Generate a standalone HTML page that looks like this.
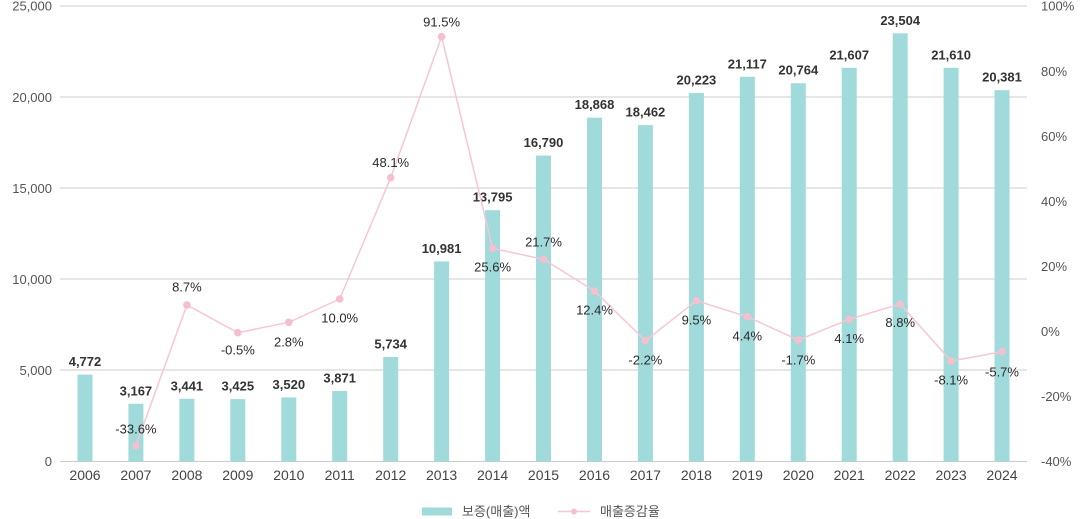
<!DOCTYPE html>
<html><head><meta charset="utf-8"><style>
html,body{margin:0;padding:0;background:#fff;}
svg{display:block;font-family:"Liberation Sans","Noto Sans CJK KR",sans-serif;}
.yl{font-size:13px;fill:#555;text-anchor:end;}
.yr{font-size:13px;fill:#555;text-anchor:start;}
.xl{font-size:14px;fill:#444;text-anchor:middle;}
.bv{font-size:13px;fill:#333;font-weight:bold;text-anchor:middle;}
.pv{font-size:13px;fill:#2a2a2a;text-anchor:middle;}
.lg{font-size:13px;fill:#555;}
</style></head><body>
<svg width="1084" height="519" viewBox="0 0 1084 519" xmlns="http://www.w3.org/2000/svg">
<g stroke="#cccccc" stroke-width="1" shape-rendering="crispEdges">
<line x1="60" x2="1027" y1="6" y2="6"/>
<line x1="60" x2="1027" y1="97" y2="97"/>
<line x1="60" x2="1027" y1="188" y2="188"/>
<line x1="60" x2="1027" y1="279" y2="279"/>
<line x1="60" x2="1027" y1="370" y2="370"/>
<line x1="60" x2="1027" y1="461.5" y2="461.5"/>
</g>
<g>
<text class="yl" x="52" y="10.7">25,000</text>
<text class="yl" x="52" y="101.8">20,000</text>
<text class="yl" x="52" y="192.9">15,000</text>
<text class="yl" x="52" y="284">10,000</text>
<text class="yl" x="52" y="375.1">5,000</text>
<text class="yl" x="52" y="466.2">0</text>
</g>
<g>
<text class="yr" x="1041" y="10.7">100%</text>
<text class="yr" x="1041" y="75.8">80%</text>
<text class="yr" x="1041" y="140.8">60%</text>
<text class="yr" x="1041" y="205.9">40%</text>
<text class="yr" x="1041" y="271">20%</text>
<text class="yr" x="1041" y="336.1">0%</text>
<text class="yr" x="1041" y="401.1">-20%</text>
<text class="yr" x="1041" y="466.2">-40%</text>
</g>
<g fill="#a0dadb">
<rect x="77.5" y="374.6" width="15" height="86.9"/>
<rect x="128.4" y="403.8" width="15" height="57.7"/>
<rect x="179.4" y="398.8" width="15" height="62.7"/>
<rect x="230.3" y="399.1" width="15" height="62.4"/>
<rect x="281.3" y="397.4" width="15" height="64.1"/>
<rect x="332.2" y="391" width="15" height="70.5"/>
<rect x="383.2" y="357" width="15" height="104.5"/>
<rect x="434.1" y="261.4" width="15" height="200.1"/>
<rect x="485.1" y="210.2" width="15" height="251.3"/>
<rect x="536" y="155.6" width="15" height="305.9"/>
<rect x="587" y="117.7" width="15" height="343.8"/>
<rect x="637.9" y="125.1" width="15" height="336.4"/>
<rect x="688.9" y="93" width="15" height="368.5"/>
<rect x="739.8" y="76.8" width="15" height="384.7"/>
<rect x="790.8" y="83.2" width="15" height="378.3"/>
<rect x="841.7" y="67.8" width="15" height="393.7"/>
<rect x="892.7" y="33.3" width="15" height="428.2"/>
<rect x="943.6" y="67.8" width="15" height="393.7"/>
<rect x="994.5" y="90.2" width="15" height="371.3"/>
</g>
<g>
<text class="bv" x="85" y="366">4,772</text>
<text class="bv" x="135.9" y="395.3">3,167</text>
<text class="bv" x="186.9" y="390.3">3,441</text>
<text class="bv" x="237.8" y="390.6">3,425</text>
<text class="bv" x="288.8" y="388.9">3,520</text>
<text class="bv" x="339.7" y="382.5">3,871</text>
<text class="bv" x="390.7" y="348.5">5,734</text>
<text class="bv" x="441.6" y="252.9">10,981</text>
<text class="bv" x="492.6" y="201.7">13,795</text>
<text class="bv" x="543.5" y="147.1">16,790</text>
<text class="bv" x="594.5" y="109.2">18,868</text>
<text class="bv" x="645.4" y="116.6">18,462</text>
<text class="bv" x="696.4" y="84.5">20,223</text>
<text class="bv" x="747.3" y="68.3">21,117</text>
<text class="bv" x="798.3" y="74.7">20,764</text>
<text class="bv" x="849.2" y="59.3">21,607</text>
<text class="bv" x="900.2" y="24.8">23,504</text>
<text class="bv" x="951.1" y="59.3">21,610</text>
<text class="bv" x="1002" y="81.7">20,381</text>
</g>
<polyline fill="none" stroke="#f7c6d3" stroke-width="1.5" points="135.9,445.7 186.9,305 237.8,332.7 288.8,322.3 339.7,299 390.7,177.7 441.6,36.7 492.6,248.3 543.5,259.3 594.5,291 645.4,340.7 696.4,300.7 747.3,316.7 798.3,340 849.2,319.3 900.2,304 951.1,361 1002,351.7"/>
<g fill="#f5c0ce">
<circle cx="135.9" cy="445.7" r="3.8"/>
<circle cx="186.9" cy="305" r="3.8"/>
<circle cx="237.8" cy="332.7" r="3.8"/>
<circle cx="288.8" cy="322.3" r="3.8"/>
<circle cx="339.7" cy="299" r="3.8"/>
<circle cx="390.7" cy="177.7" r="3.8"/>
<circle cx="441.6" cy="36.7" r="3.8"/>
<circle cx="492.6" cy="248.3" r="3.8"/>
<circle cx="543.5" cy="259.3" r="3.8"/>
<circle cx="594.5" cy="291" r="3.8"/>
<circle cx="645.4" cy="340.7" r="3.8"/>
<circle cx="696.4" cy="300.7" r="3.8"/>
<circle cx="747.3" cy="316.7" r="3.8"/>
<circle cx="798.3" cy="340" r="3.8"/>
<circle cx="849.2" cy="319.3" r="3.8"/>
<circle cx="900.2" cy="304" r="3.8"/>
<circle cx="951.1" cy="361" r="3.8"/>
<circle cx="1002" cy="351.7" r="3.8"/>
</g>
<g>
<text class="pv" x="135.9" y="433.7">-33.6%</text>
<text class="pv" x="186.9" y="291.4">8.7%</text>
<text class="pv" x="237.8" y="354.7">-0.5%</text>
<text class="pv" x="288.8" y="346.4">2.8%</text>
<text class="pv" x="339.7" y="322.4">10.0%</text>
<text class="pv" x="390.7" y="167">48.1%</text>
<text class="pv" x="441.6" y="26.7">91.5%</text>
<text class="pv" x="492.6" y="271.4">25.6%</text>
<text class="pv" x="543.5" y="246.4">21.7%</text>
<text class="pv" x="594.5" y="314.7">12.4%</text>
<text class="pv" x="645.4" y="364.7">-2.2%</text>
<text class="pv" x="696.4" y="324.7">9.5%</text>
<text class="pv" x="747.3" y="340.4">4.4%</text>
<text class="pv" x="798.3" y="364.7">-1.7%</text>
<text class="pv" x="849.2" y="343">4.1%</text>
<text class="pv" x="900.2" y="327">8.8%</text>
<text class="pv" x="951.1" y="384.7">-8.1%</text>
<text class="pv" x="1002" y="376.4">-5.7%</text>
</g>
<g>
<text class="xl" x="85" y="480">2006</text>
<text class="xl" x="135.9" y="480">2007</text>
<text class="xl" x="186.9" y="480">2008</text>
<text class="xl" x="237.8" y="480">2009</text>
<text class="xl" x="288.8" y="480">2010</text>
<text class="xl" x="339.7" y="480">2011</text>
<text class="xl" x="390.7" y="480">2012</text>
<text class="xl" x="441.6" y="480">2013</text>
<text class="xl" x="492.6" y="480">2014</text>
<text class="xl" x="543.5" y="480">2015</text>
<text class="xl" x="594.5" y="480">2016</text>
<text class="xl" x="645.4" y="480">2017</text>
<text class="xl" x="696.4" y="480">2018</text>
<text class="xl" x="747.3" y="480">2019</text>
<text class="xl" x="798.3" y="480">2020</text>
<text class="xl" x="849.2" y="480">2021</text>
<text class="xl" x="900.2" y="480">2022</text>
<text class="xl" x="951.1" y="480">2023</text>
<text class="xl" x="1002" y="480">2024</text>
</g>
<g>
<rect x="422" y="507.5" width="30" height="8" fill="#a0dadb"/>
<text class="lg" x="462" y="516.2">보증(매출)액</text>
<line x1="558" x2="590" y1="511.5" y2="511.5" stroke="#f7c6d3" stroke-width="1.5"/>
<circle cx="574" cy="511.5" r="3" fill="#f5c0ce"/>
<text class="lg" x="600" y="516.2">매출증감율</text>
</g>
</svg>
</body></html>
